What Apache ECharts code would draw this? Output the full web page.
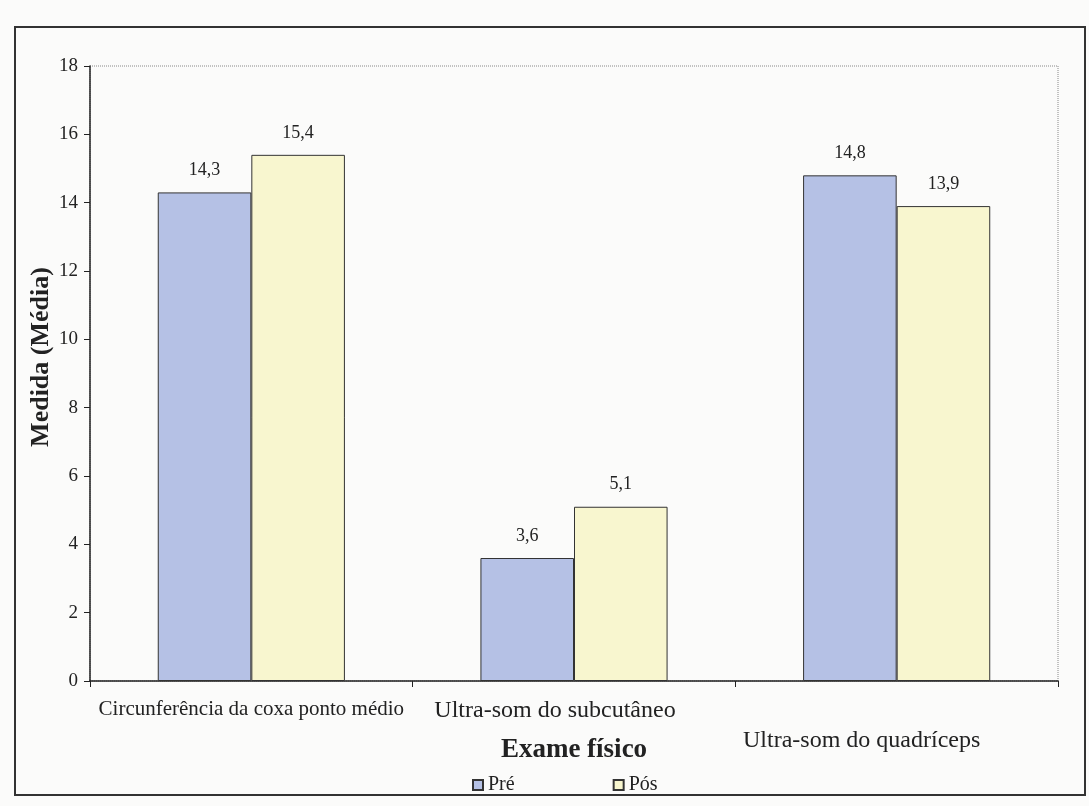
<!DOCTYPE html>
<html>
<head>
<meta charset="utf-8">
<script src="https://cdn.jsdelivr.net/npm/echarts@6/dist/echarts.min.js"></script>
<style>
  html, body { margin: 0; padding: 0; background: #fbfbfa; }
  #main { width: 1089px; height: 806px; }
</style>
</head>
<body>
<div id="main"></div>
<script>
var categories = ['Circunferência da coxa ponto médio', 'Ultra-som do subcutâneo', 'Ultra-som do quadríceps'];
var preValues = [14.3, 3.6, 14.8];
var posValues = [15.4, 5.1, 13.9];
var seriesNames = ['Pré', 'Pós'];
var yTitle = 'Medida (Média)';
var xTitle = 'Exame físico';

var serif = '"Liberation Serif", "DejaVu Serif", serif';
var chart = echarts.init(document.getElementById('main'));

var fmtComma = function(p) {
    return String(p.value).replace('.', ',');
};

var option = {
    backgroundColor: '#fbfbfa',
    textStyle: { fontFamily: serif, color: '#222' },
    graphic: [{
        type: 'rect',
        shape: { x: 15, y: 27, width: 1070, height: 768 },
        style: { fill: 'none', stroke: '#333', lineWidth: 2 },
        silent: true
    }, {
        // y axis title, placed like the original (a bit above the plot middle)
        type: 'text',
        x: 41,
        y: 357,
        rotation: Math.PI / 2,
        style: {
            text: yTitle,
            fontFamily: serif,
            fontSize: 26,
            fontWeight: 'bold',
            fill: '#222',
            align: 'center',
            verticalAlign: 'middle'
        },
        silent: true
    }],
    grid: {
        left: 90, right: 31, top: 66, bottom: 125,
        show: true,
        borderColor: '#888',
        borderWidth: 1,
        borderType: 'dotted'
    },
    legend: {
        top: 770,
        left: 467,
        itemGap: 98,
        itemWidth: 10,
        itemHeight: 10,
        icon: 'rect',
        textStyle: { fontFamily: serif, fontSize: 20, color: '#222' },
        data: seriesNames
    },
    xAxis: {
        type: 'category',
        data: categories,
        name: xTitle,
        nameLocation: 'middle',
        nameGap: 56,
        nameMoveOverlap: false,
        nameTextStyle: { fontFamily: serif, fontSize: 27, fontWeight: 'bold', color: '#222' },
        axisLine: { lineStyle: { color: '#222', width: 1.5 } },
        axisTick: { show: true, length: 6, lineStyle: { color: '#222' } },
        axisLabel: {
            interval: 0,
            margin: 18,
            color: '#222',
            formatter: function(v, i) {
                return '{c' + i + '|' + v + '}';
            },
            rich: {
                c0: { fontFamily: serif, fontSize: 21, color: '#222' },
                c1: { fontFamily: serif, fontSize: 24, color: '#222', padding: [0, 38, 0, 0] },
                c2: { fontFamily: serif, fontSize: 24, color: '#222', padding: [30, 70, 0, 0] }
            }
        },
        splitLine: { show: false }
    },
    yAxis: {
        type: 'value',
        min: 0,
        max: 18,
        interval: 2,
        axisLine: { show: true, lineStyle: { color: '#222', width: 1.5 } },
        axisTick: { show: true, length: 6, lineStyle: { color: '#222' } },
        axisLabel: { fontFamily: serif, fontSize: 19, color: '#222', margin: 12 },
        splitLine: { show: false }
    },
    series: [{
        name: seriesNames[0],
        type: 'bar',
        data: preValues,
        barWidth: '29%',
        barGap: '0%',
        itemStyle: { color: '#b5c1e5', borderColor: '#333', borderWidth: 1 },
        label: {
            show: true, position: 'top', distance: 13,
            fontFamily: serif, fontSize: 18, color: '#222',
            formatter: fmtComma
        }
    }, {
        name: seriesNames[1],
        type: 'bar',
        data: posValues,
        barWidth: '29%',
        itemStyle: { color: '#f8f6cf', borderColor: '#333', borderWidth: 1 },
        label: {
            show: true, position: 'top', distance: 13,
            fontFamily: serif, fontSize: 18, color: '#222',
            formatter: fmtComma
        }
    }]
};

chart.setOption(option);
</script>
</body>
</html>
